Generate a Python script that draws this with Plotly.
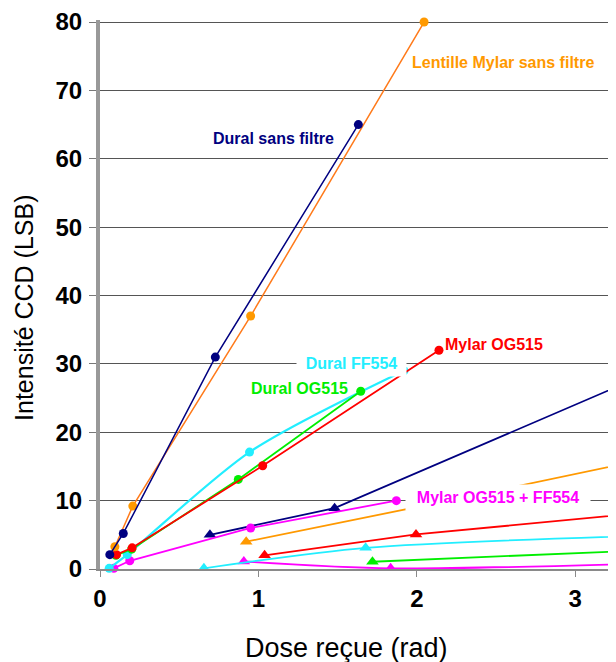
import plotly.graph_objects as go

# ---- data ----
# circle series
dural_sf_x = [0.062, 0.147, 0.728, 1.631]
dural_sf_y = [2.1, 5.2, 31.0, 65.0]

mylar_sf_x = [0.094, 0.207, 0.951, 2.046]
mylar_sf_y = [3.25, 9.2, 37.0, 80.0]

mylar_og_x = [0.104, 0.203, 1.027, 2.14]
mylar_og_y = [2.1, 3.1, 15.1, 32.0]

dural_ff_x = [0.058, 0.172, 0.944, 1.919]
dural_ff_y = [0.1, 2.1, 17.1, 29.0]

dural_og_x = [0.10, 0.20, 0.873, 1.646]
dural_og_y = [2.0, 2.9, 13.1, 26.0]

mylar_ogff_x = [0.087, 0.188, 0.951, 1.871]
mylar_ogff_y = [0.1, 1.2, 6.0, 10.0]

# triangle series
tri_navy_x = [0.694, 1.481, 3.6]
tri_navy_y = [5.0, 8.9, 30.0]
tri_orange_x = [0.923, 2.2, 3.6]
tri_orange_y = [4.0, 10.0, 16.8]
tri_red_x = [1.039, 1.995, 3.6]
tri_red_y = [2.0, 5.05, 8.6]
tri_cyan_x = [0.656, 1.677, 3.6]
tri_cyan_y = [0.1, 3.1, 5.0]
tri_green_x = [1.72, 3.6]
tri_green_y = [1.06, 2.9]
tri_magenta_x = [0.908, 1.835, 3.6]
tri_magenta_y = [1.1, 0.1, 0.9]

x_ticks = [0, 1, 2, 3]
y_ticks = [0, 10, 20, 30, 40, 50, 60, 70, 80]

NAVY = "#000080"
ORANGE = "#FF9900"
ORANGE_LINE = "#FF7A1A"
RED = "#FF0000"
CYAN = "#22EEFF"
GREEN = "#00EE00"
MAGENTA = "#FF00FF"

FONT = "Liberation Sans, Arial, sans-serif"

fig = go.Figure()

def circ(x, y, col, lcol=None, w=1.8, shape="linear"):
    fig.add_trace(go.Scatter(
        x=x, y=y, mode="lines+markers", cliponaxis=False,
        line=dict(color=lcol or col, width=w, shape=shape, smoothing=0.8),
        marker=dict(symbol="circle", size=9, color=col),
        showlegend=False, hoverinfo="skip"))

def tri(x, y, col, w=1.8, shape="linear"):
    fig.add_trace(go.Scatter(
        x=x, y=y, mode="lines+markers", cliponaxis=False,
        line=dict(color=col, width=w, shape=shape, smoothing=0.8),
        marker=dict(symbol="triangle-up", size=11, color=col),
        showlegend=False, hoverinfo="skip"))

tri(tri_magenta_x, tri_magenta_y, MAGENTA, shape="spline")
tri(tri_green_x, tri_green_y, GREEN)
tri(tri_cyan_x, tri_cyan_y, CYAN, shape="spline")
tri(tri_red_x, tri_red_y, RED)
tri(tri_orange_x, tri_orange_y, ORANGE)
tri(tri_navy_x, tri_navy_y, NAVY)

circ(mylar_ogff_x, mylar_ogff_y, MAGENTA)
circ(dural_ff_x, dural_ff_y, CYAN, shape="spline", w=2.2)
circ(dural_og_x, dural_og_y, GREEN)
circ(mylar_og_x, mylar_og_y, RED)
circ(mylar_sf_x, mylar_sf_y, ORANGE, lcol=ORANGE_LINE, w=1.5)
circ(dural_sf_x, dural_sf_y, NAVY, w=1.5)

# page body has an 8px margin: figure is drawn offset by (8, 8)
W, H = 608, 654
L, R, T, B = 92, 0, 10, 93
PPU = 158.4
YMAX = 80.3
plot_w = W - L - R
plot_h = H - T - B
xmax = plot_w / PPU

def lab(text, x, y, col, bg=None, width=None):
    d = dict(text=text, x=x, y=y, xref="x", yref="y", showarrow=False,
             font=dict(family=FONT, size=16, color=col, weight="bold"),
             xanchor="center", yanchor="middle")
    if bg:
        d.update(bgcolor=bg, borderpad=4, width=width)
    fig.add_annotation(**d)

lab("Dural sans filtre", 1.093, 62.9, NAVY)
lab("Lentille Mylar sans filtre", 2.546, 74.1, ORANGE)
lab("Mylar OG515", 2.489, 32.85, RED)
lab("Dural FF554", 1.589, 30.03, CYAN, bg="white", width=101)
lab("Dural OG515", 1.262, 26.4, GREEN)
lab("Mylar OG515 + FF554", 2.514, 10.4, MAGENTA, bg="white", width=176)

# axis titles (positions given in reference-picture pixels)
fig.add_annotation(text="Dose reçue (rad)", xref="paper", yref="paper",
                   x=(346 - 100) / plot_w, y=(569 - 648) / plot_h,
                   xanchor="center", yanchor="middle", showarrow=False,
                   font=dict(family=FONT, size=27, color="black"))
fig.add_annotation(text="Intensité CCD (LSB)", xref="paper", yref="paper",
                   x=(24 - 100) / plot_w, y=(569 - 307) / plot_h,
                   xanchor="center", yanchor="middle", showarrow=False,
                   textangle=-90,
                   font=dict(family=FONT, size=25, color="black"))

fig.update_layout(
    width=W, height=H,
    margin=dict(l=L, r=R, t=T, b=B, pad=0),
    paper_bgcolor="white", plot_bgcolor="white",
    font=dict(family=FONT, color="black"),
)
fig.update_xaxes(
    range=[0, xmax], tickvals=x_ticks, ticktext=[str(v) for v in x_ticks],
    showgrid=False, zeroline=False,
    showline=True, linecolor="#8A8A8A", linewidth=2,
    ticks="outside", ticklen=6, tickcolor="#8A8A8A", tickwidth=1,
    ticklabelstandoff=1, ticklabeloverflow="allow",
    tickfont=dict(family=FONT, size=24, color="black", weight="bold"),
)
fig.update_yaxes(
    range=[0, YMAX], tickvals=y_ticks, ticktext=[str(v) for v in y_ticks],
    showgrid=True, gridcolor="#555555", gridwidth=1, zeroline=False,
    showline=True, linecolor="#999999", linewidth=4,
    ticks="outside", ticklen=7, tickcolor="#777777", tickwidth=1,
    ticklabelstandoff=2, ticklabeloverflow="allow",
    tickfont=dict(family=FONT, size=24, color="black", weight="bold"),
)

fig.write_html("out.html")
